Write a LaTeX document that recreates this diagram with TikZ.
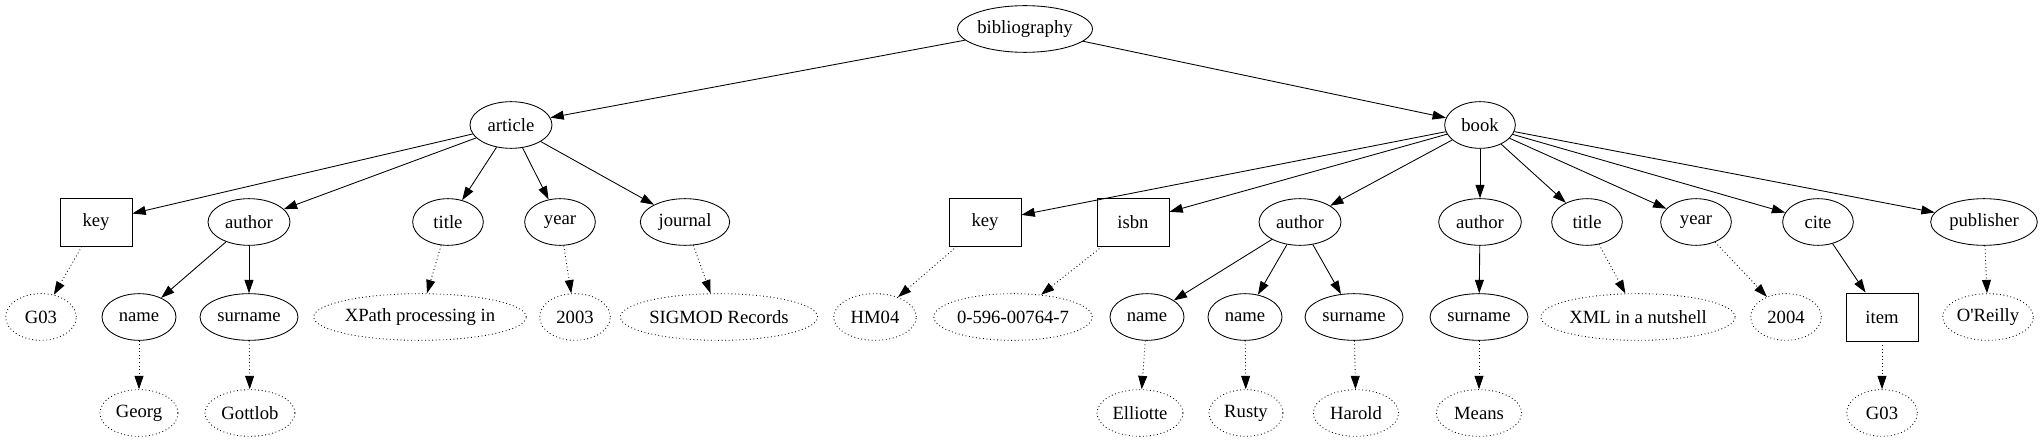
\documentclass[tikz,border=0pt]{standalone}
\usepackage{fontspec}
\setmainfont{Liberation Serif}
\usetikzlibrary{shapes.geometric,arrows.meta}
\colorlet{node edge}{black}
\tikzset{elem/.style={ellipse, draw=node edge, line width=0.65pt, minimum width=53pt,
        minimum height=35pt, inner sep=0pt, font=\fontsize{14}{16}\selectfont},
    value/.style={elem, dotted},
    attr/.style={rectangle, draw=node edge, line width=0.65pt, minimum width=54pt,
        minimum height=36pt, inner sep=0pt, font=\fontsize{14}{16}\selectfont},
    child/.style={line width=0.65pt, -{Triangle[length=10pt,width=6.7pt]}},
    text edge/.style={child, dotted}}

\begin{document}
\begin{tikzpicture}[x=0.75pt, y=-0.75pt]
    \useasboundingbox (0,0) rectangle (2042,442);
    % root and its two entries
    \node[elem, minimum width=97pt] (bib)     at (1025,29)  {bibliography};
    \node[elem, minimum width=61.5pt] (article) at (511,125) {article};
    \node[elem] (book) at (1480,125) {book};
    % article
    \node[attr] (akey) at (96,222) {key};
    \node[elem, minimum width=61.5pt] (aauthor) at (249,222) {author};
    \node[elem] (atitle)   at (448,222) {title};
    \node[elem] (ayear)    at (560,222) {year};
    \node[elem, minimum width=67pt] (ajournal) at (685,222) {journal};
    \node[value] (akeyv) at (41,317) {G03};
    \node[elem, minimum width=55.5pt] (aname)    at (139,317) {name};
    \node[elem, minimum width=73.5pt] (asurname) at (249,317) {surname};
    \node[value, minimum width=142.5pt] (atitlev)  at (420,317) {XPath processing in};
    \node[value] (ayearv) at (575,317) {2003};
    \node[value, minimum width=127pt] (ajournalv) at (719,317) {SIGMOD Records};
    \node[value, minimum width=58.5pt] (anamev)    at (139,413) {Georg};
    \node[value, minimum width=67.5pt] (asurnamev) at (250,413) {Gottlob};
    % book
    \node[attr] (bkey)  at (985,222)  {key};
    \node[attr] (bisbn) at (1133,222) {isbn};
    \node[elem, minimum width=61.5pt] (bauthora) at (1300,222) {author};
    \node[elem, minimum width=62pt]   (bauthorb) at (1480,222) {author};
    \node[elem] (btitle) at (1587,222) {title};
    \node[elem] (byear)  at (1696,222) {year};
    \node[elem] (bcite)  at (1818,222) {cite};
    \node[elem, minimum width=80pt] (bpublisher) at (1984,222) {publisher};
    \node[value, minimum width=62pt]    (bkeyv)  at (875,317)  {HM04};
    \node[value, minimum width=106.5pt] (bisbnv) at (1013,317) {0-596-00764-7};
    \node[elem, minimum width=55.5pt] (bnamea)    at (1147,317) {name};
    \node[elem, minimum width=55.5pt] (bnameb)    at (1245,317) {name};
    \node[elem, minimum width=73.5pt] (bsurnamea) at (1354,317) {surname};
    \node[elem, minimum width=73.5pt] (bsurnameb) at (1479,317) {surname};
    \node[value, minimum width=126pt] (btitlev) at (1638,317) {XML in a nutshell};
    \node[value] (byearv) at (1786,317) {2004};
    \node[attr]  (bitem)  at (1882,317) {item};
    \node[value, minimum width=68pt] (bpublisherv) at (1988,317) {O\textquotesingle Reilly};
    \node[value, minimum width=64.5pt] (bnameav)    at (1140,413) {Elliotte};
    \node[value, minimum width=55.5pt] (bnamebv)    at (1246,413) {Rusty};
    \node[value, minimum width=64pt]   (bsurnameav) at (1356,413) {Harold};
    \node[value, minimum width=64pt]   (bsurnamebv) at (1479,413) {Means};
    \node[value] (bitemv) at (1882,413) {G03};
    % element edges
    \foreach \from/\to in {bib/article, bib/book,
        article/akey, article/aauthor, article/atitle, article/ayear, article/ajournal,
        aauthor/aname, aauthor/asurname,
        book/bkey, book/bisbn, book/bauthora, book/bauthorb, book/btitle,
        book/byear, book/bcite, book/bpublisher,
        bauthora/bnamea, bauthora/bnameb, bauthora/bsurnamea,
        bauthorb/bsurnameb, bcite/bitem}
        \draw[child] (\from) -- (\to);
    % text edges
    \foreach \from in {akey, atitle, ayear, ajournal, aname, asurname,
        bkey, bisbn, btitle, byear, bpublisher, bnamea, bnameb,
        bsurnamea, bsurnameb, bitem}
        \draw[text edge] (\from) -- (\from v);
\end{tikzpicture}
\end{document}
